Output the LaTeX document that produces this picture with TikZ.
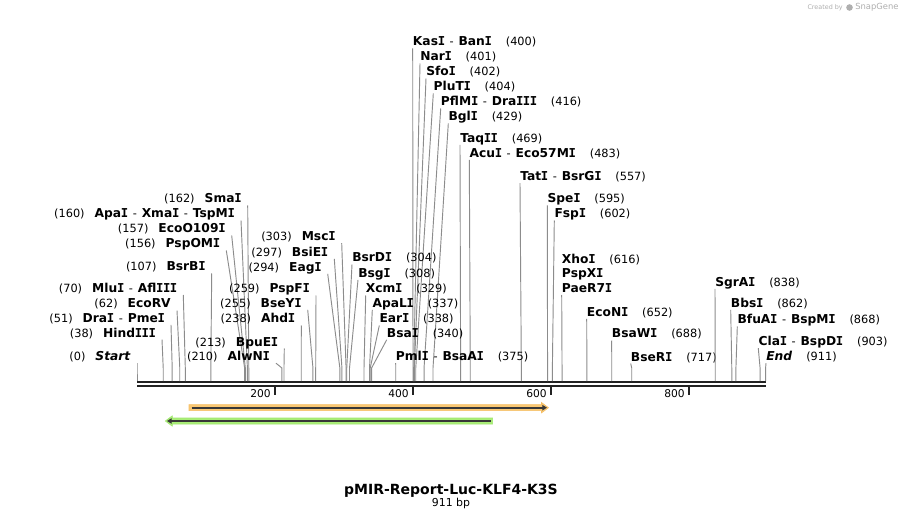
\documentclass[tikz,border=0pt]{standalone}
\usepackage{fontspec}
\setmainfont{DejaVu Sans}
\newfontfamily\monoI{DejaVu Sans Mono}
\usetikzlibrary{arrows.meta}
\definecolor{leadc}{RGB}{140,140,140}
\definecolor{bbc}{RGB}{34,34,34}
\definecolor{orangef}{RGB}{250,200,115}
\definecolor{orangeo}{RGB}{245,190,100}
\definecolor{greenf}{RGB}{170,238,120}
\definecolor{greeno}{RGB}{160,230,110}
\definecolor{featline}{RGB}{55,55,55}
\definecolor{wmark}{RGB}{175,175,175}
\newcommand{\nm}[1]{{\fontsize{9.2}{10}\selectfont\bfseries #1}}
\newcommand{\Ib}{\makebox[0.56em]{\monoI I}}
\newcommand{\dsh}{\hspace{3.6pt}-\hspace{3.6pt}}
\newcommand{\LeftLab}[5]{%
  \node[lab,anchor=base east] (#1) at (#2,#3+4) {#5};
  \coordinate (#1k) at ({137+0.69*#4},368);
  \coordinate (#1b) at ({137+0.69*#4},381);
  \draw[leader] ([shift={(6,2.5)}]#1.base east) -- (#1k) -- (#1b);
}
\newcommand{\RightLab}[5]{%
  \node[lab,anchor=base west] (#1) at (#2,#3+4) {#5};
  \coordinate (#1k) at ({137+0.69*#4},368);
  \coordinate (#1b) at ({137+0.69*#4},381);
  \draw[leader] ([shift={(0,2.5)}]#1.base west) -- (#1k) -- (#1b);
}
\begin{document}
\begin{tikzpicture}[x=0.75pt,y=-0.75pt,
  lab/.style={inner sep=0pt, font=\fontsize{8.5}{10}\selectfont, text=black},
  leader/.style={draw=leadc, line width=0.7pt},
  bb/.style={draw=bbc, line width=1.6pt},
  tickmark/.style={draw=bbc, line width=1.5pt},
  ticklab/.style={inner sep=0pt, font=\fontsize{8}{9}\selectfont, anchor=east},
  featbar/.style={draw=featline, line width=1.3pt}]
\useasboundingbox[fill=white] (0,0) rectangle (903,520);

% watermark
\node[inner sep=0pt, anchor=east, text=wmark, font=\fontsize{4.8}{6}\selectfont] (wm1) at (843,7.5) {Created by};
\fill[wmark] (849.5,7.5) circle (3.3);
\node[inner sep=0pt, anchor=west, text=wmark, font=\fontsize{6.3}{7}\selectfont] (wm2) at (855,7.5) {SnapGene};

% backbone
\draw[bb] (137,382) -- (766,382);
\draw[bb] (137,386.3) -- (766,386.3);
\foreach \v/\xx in {200/275,400/413,600/551,800/689}{
  \draw[tickmark] (\xx,387) -- (\xx,395);
  \node[ticklab] (t\v) at (\xx-4,394) {\v};
}

% left labels
\LeftLab{start}{131}{356.5}{0}{(0)\hspace{7.5pt}\nm{\textit{Start}}}
\LeftLab{hind}{156}{333}{38}{(38)\hspace{7.5pt}\nm{Hind\Ib\Ib\Ib}}
\LeftLab{dra}{165}{318.3}{51}{(51)\hspace{7.5pt}\nm{Dra\Ib}\dsh\nm{Pme\Ib}}
\LeftLab{ecorv}{171}{304}{62}{(62)\hspace{7.5pt}\nm{EcoRV}}
\LeftLab{mlu}{177.3}{288.5}{70}{(70)\hspace{7.5pt}\nm{Mlu\Ib}\dsh\nm{Afl\Ib\Ib\Ib}}
\LeftLab{bsrbi}{205.7}{267}{107}{(107)\hspace{7.5pt}\nm{BsrB\Ib}}
\LeftLab{pspomi}{220.3}{244}{156}{(156)\hspace{7.5pt}\nm{PspOM\Ib}}
\LeftLab{ecoo}{225.7}{229}{157}{(157)\hspace{7.5pt}\nm{EcoO109\Ib}}
\LeftLab{apai}{235}{214}{160}{(160)\hspace{7.5pt}\nm{Apa\Ib}\dsh\nm{Xma\Ib}\dsh\nm{TspM\Ib}}
\LeftLab{smai}{241.7}{199}{162}{(162)\hspace{7.5pt}\nm{Sma\Ib}}
\LeftLab{alwn}{270}{356.7}{210}{(210)\hspace{7.5pt}\nm{AlwN\Ib}}
\LeftLab{bpue}{278.3}{342}{213}{(213)\hspace{7.5pt}\nm{BpuE\Ib}}
\LeftLab{ahd}{295.3}{319}{238}{(238)\hspace{7.5pt}\nm{Ahd\Ib}}
\LeftLab{bsey}{301.7}{303.3}{255}{(255)\hspace{7.5pt}\nm{BseY\Ib}}
\LeftLab{pspf}{310}{289}{259}{(259)\hspace{7.5pt}\nm{PspF\Ib}}
\LeftLab{eag}{321.7}{267.3}{294}{(294)\hspace{7.5pt}\nm{Eag\Ib}}
\LeftLab{bsie}{328.3}{252.3}{297}{(297)\hspace{7.5pt}\nm{BsiE\Ib}}
\LeftLab{msc}{335.7}{236.7}{303}{(303)\hspace{7.5pt}\nm{Msc\Ib}}

% right labels
\RightLab{kas}{412.7}{42}{400}{\nm{Kas\Ib}\dsh\nm{Ban\Ib}\hspace{10.5pt}(400)}
\RightLab{nar}{420}{57}{401}{\nm{Nar\Ib}\hspace{10.5pt}(401)}
\RightLab{sfo}{426}{72}{402}{\nm{Sfo\Ib}\hspace{10.5pt}(402)}
\RightLab{plut}{433.3}{87}{404}{\nm{PluT\Ib}\hspace{10.5pt}(404)}
\RightLab{pflm}{440.7}{102}{416}{\nm{PflM\Ib}\dsh\nm{Dra\Ib\Ib\Ib}\hspace{10.5pt}(416)}
\RightLab{bgl}{448.3}{117}{429}{\nm{Bgl\Ib}\hspace{10.5pt}(429)}
\RightLab{taq}{460}{138.3}{469}{\nm{Taq\Ib\Ib}\hspace{10.5pt}(469)}
\RightLab{acu}{469.3}{153.3}{483}{\nm{Acu\Ib}\dsh\nm{Eco57M\Ib}\hspace{10.5pt}(483)}
\RightLab{tat}{520}{176.7}{557}{\nm{Tat\Ib}\dsh\nm{BsrG\Ib}\hspace{10.5pt}(557)}
\RightLab{spe}{547.3}{199}{595}{\nm{Spe\Ib}\hspace{10.5pt}(595)}
\RightLab{fsp}{554.3}{214}{602}{\nm{Fsp\Ib}\hspace{10.5pt}(602)}
\node[lab,anchor=base west] (xho) at (561.7,263.3) {\nm{Xho\Ib}\hspace{10.5pt}(616)};
\node[lab,anchor=base west] (pspx) at (561.7,278) {\nm{PspX\Ib}};
\RightLab{paer}{561.7}{288.5}{616}{\nm{PaeR7\Ib}}
\RightLab{econ}{586.7}{312.3}{652}{\nm{EcoN\Ib}\hspace{10.5pt}(652)}
\RightLab{bsaw}{611.7}{334}{688}{\nm{BsaW\Ib}\hspace{10.5pt}(688)}
\RightLab{bser}{630.7}{357}{717}{\nm{BseR\Ib}\hspace{10.5pt}(717)}
\RightLab{sgra}{715}{282.3}{838}{\nm{SgrA\Ib}\hspace{10.5pt}(838)}
\RightLab{bbs}{730.7}{303.3}{862}{\nm{Bbs\Ib}\hspace{10.5pt}(862)}
\RightLab{bfua}{737.3}{320}{868}{\nm{BfuA\Ib}\dsh\nm{BspM\Ib}\hspace{10.5pt}(868)}
\RightLab{cla}{758.3}{341.7}{903}{\nm{Cla\Ib}\dsh\nm{BspD\Ib}\hspace{10.5pt}(903)}
\RightLab{endl}{766}{356.7}{911}{\nm{\textit{End}}\hspace{10.5pt}(911)}
\RightLab{bsrd}{352}{258}{304}{\nm{BsrD\Ib}\hspace{10.5pt}(304)}
\RightLab{bsg}{358}{273.3}{308}{\nm{Bsg\Ib}\hspace{10.5pt}(308)}
\RightLab{xcm}{365.7}{289}{329}{\nm{Xcm\Ib}\hspace{10.5pt}(329)}
\RightLab{apal}{372.3}{303.3}{337}{\nm{ApaL\Ib}\hspace{10.5pt}(337)}
\RightLab{ear}{379.3}{319}{338}{\nm{Ear\Ib}\hspace{10.5pt}(338)}
\RightLab{bsa}{386.7}{333.3}{340}{\nm{Bsa\Ib}\hspace{10.5pt}(340)}
\RightLab{pml}{395.7}{356.7}{375}{\nm{Pml\Ib}\dsh\nm{BsaA\Ib}\hspace{10.5pt}(375)}

% features
\filldraw[fill=orangef, draw=orangeo, line width=0.4pt] (189,404.7) -- (541.5,404.7) -- (541.5,402.5) -- (548.5,407.7) -- (541.5,412.9) -- (541.5,410.7) -- (189,410.7) -- cycle;
\draw[featbar, -{Triangle[length=3.5pt,width=4pt]}] (191.5,407.7) -- (547,407.7);
\filldraw[fill=greenf, draw=greeno, line width=0.4pt] (492.7,418) -- (172.3,418) -- (172.3,415.8) -- (165.3,421) -- (172.3,426.2) -- (172.3,424) -- (492.7,424) -- cycle;
\draw[featbar, -{Triangle[length=3.5pt,width=4pt]}] (490.7,421) -- (167,421);

% title
\node[inner sep=0pt, font=\fontsize{10.5}{12}\bfseries] (title) at (451,490.5) {pMIR-Report-Luc-KLF4-K3S};
\node[inner sep=0pt, font=\fontsize{8.2}{10}\selectfont] (size) at (451,503.5) {911 bp};
\end{tikzpicture}
\end{document}
